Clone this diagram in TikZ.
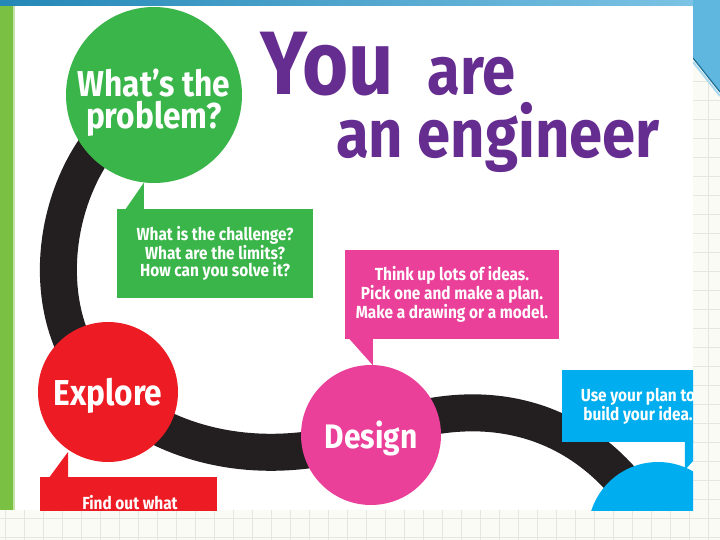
\documentclass[tikz,border=0pt]{standalone}
\usepackage{fontspec}
\setmainfont{Fira Sans}[FakeStretch=0.88]
\usepackage{xcolor}
\usepackage{tikz}
\usetikzlibrary{positioning}
\definecolor{engpurple}{HTML}{662D91}
\definecolor{enggreen}{HTML}{3AB54A}
\definecolor{engred}{HTML}{ED1C24}
\definecolor{engpink}{HTML}{EA4099}
\definecolor{engblue}{HTML}{00AEEF}
\definecolor{engtrack}{HTML}{231F20}
\definecolor{slidebar}{HTML}{7AC143}
\definecolor{slidetop}{HTML}{2A9FD6}
\definecolor{gridline}{HTML}{E6E6DE}
\definecolor{paper}{HTML}{FBFBF6}

\tikzset{
  stage/.style={circle, minimum size=#1, inner sep=0pt, text=white, text depth=0pt},
  bubble/.style={rectangle, inner sep=0pt, text=white, align=center,
    font=\bfseries\fontsize{17.5}{17.5}\selectfont},
  headline/.style={text=engpurple, inner sep=0pt, font=\bfseries\fontsize{#1}{#1}\selectfont},
}

\begin{document}
\begin{tikzpicture}[x=1pt, y=-1pt]
      \def\W{720}
      \def\H{540}
      \def\Track{37pt}

      \useasboundingbox (0,0) rectangle (\W,\H);
      \fill[paper] (0,0) rectangle (\W,\H);
      \foreach \g in {5,24,...,720}{
        \draw[gridline, line width=0.6pt] (\g,0) -- (\g,\H);
      }
      \foreach \g in {5,24,...,540}{
        \draw[gridline, line width=0.6pt] (0,\g) -- (\W,\g);
      }

      \shade[left color=slidetop!85!black, right color=slidetop!60!white] (0,0) rectangle (\W,6);
      \fill[slidetop!75!white] (693,0) -- (720,0) -- (720,92) -- (693,58) -- cycle;
      \draw[slidetop!70!black, line width=1.2pt] (693,58) -- (720,92);
      \draw[slidetop!40!white, line width=2pt] (693,62) -- (720,96);

      \fill[slidebar] (0,6) rectangle (13,510);
      \fill[slidebar!45!white] (13,6) rectangle (15,510);
      \fill[white] (15,6) rectangle (693,510);

      \begin{scope}
        \clip (15,6) rectangle (693,510);

        \coordinate (cProb) at (154,95);
        \coordinate (cExpl) at (108,392);
        \coordinate (cDes) at (371,435);
        \coordinate (cBuild) at (658,532);

        \draw[engtrack, line width=\Track]
          (cProb) .. controls (50,150) and (25,320) .. (cExpl)
          .. controls (170,450) and (270,470) .. (cDes)
          .. controls (450,400) and (580,390) .. (cBuild);

        \node[bubble, fill=enggreen, minimum width=196, minimum height=89] (qProb) at (215,253.5)
          {What is the challenge?\\What are the limits?\\How can you solve it?};
        \fill[enggreen] ([yshift=-13pt]qProb.north west) -- ([xshift=27pt, yshift=26pt]qProb.north west)
          -- ([xshift=27pt, yshift=-2pt]qProb.north west) -- cycle;

        \node[bubble, fill=engpink, minimum width=214, minimum height=89] (qDes) at (452,294.5)
          {Think up lots of ideas.\\Pick one and make a plan.\\Make a drawing or a model.};
        \fill[engpink] ([xshift=3pt, yshift=2pt]qDes.south west) -- ([xshift=28pt, yshift=-26pt]qDes.south west)
          -- ([xshift=28pt, yshift=2pt]qDes.south west) -- cycle;

        \node[bubble, fill=engblue, minimum width=152, minimum height=72] (qBuild) at (638,406)
          {Use your plan to\\build your idea.};
        \fill[engblue] ([xshift=123pt, yshift=2pt]qBuild.south west) -- ([xshift=123pt, yshift=-28pt]qBuild.south west)
          -- ([xshift=150pt, yshift=2pt]qBuild.south west) -- cycle;

        \node[bubble, fill=engred, minimum width=177, minimum height=90, anchor=north west] (qExpl) at (40,477) {};
        \fill[engred] ([yshift=-13pt]qExpl.north west) -- ([xshift=28pt, yshift=25pt]qExpl.north west)
          -- ([xshift=28pt, yshift=-2pt]qExpl.north west) -- cycle;
        \node[bubble] (tExpl) at (130,503) {Find out what};

        \node[stage=176, fill=enggreen] (sProb) at (cProb) {};
        \node[text=white, inner sep=0pt, align=center, font=\bfseries\fontsize{36}{32}\selectfont] (tProb)
          at ([yshift=-8pt]sProb.center) {What’s the\\problem?};
        \node[stage=140, fill=engred, font=\bfseries\fontsize{36}{36}\selectfont] (sExpl) at (cExpl) {Explore};
        \node[stage=140, fill=engpink, font=\bfseries\fontsize{34}{34}\selectfont] (sDes) at (cDes) {Design};
        \node[stage=140, fill=engblue] (sBuild) at (cBuild) {};

        \node[headline=90, anchor=base west] (you) at (260,95) {You};
        \node[headline=68, base right=34pt of you] (are) {are};
        \node[headline=68, anchor=base west] (eng) at (336,158) {an engineer};
      \end{scope}

    \end{tikzpicture}
\end{document}
